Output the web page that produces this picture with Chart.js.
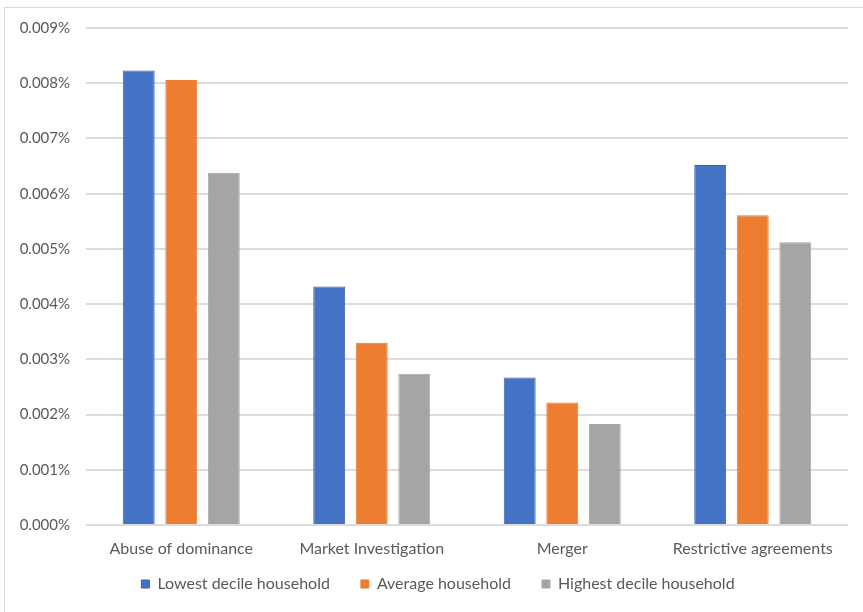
<!DOCTYPE html>
<html lang="en">

<head>
    <meta charset="UTF-8">
    <script src="https://cdn.jsdelivr.net/npm/chart.js"></script>
    <title>Household impact by case type</title>
    <style>
        body { margin: 0; background: #fff; }
        .quadro {
            position: absolute;
            left: 4px;
            top: 7px;
            width: 880px;
            height: 640px;
            border: 1px solid #d9d9d9;
        }
        .grafico {
            position: absolute;
            left: 0;
            top: 0;
            width: 863px;
            height: 612px;
        }
    </style>
</head>

<body>
    <div class="quadro"></div>
    <div class="grafico">
        <canvas id="grafico_barra" width="863" height="612"></canvas>
    </div>
</body>

</html>

<script>
    const categorias = [
        'Abuse of dominance',
        'Market Investigation',
        'Merger',
        'Restrictive agreements',
    ];

    // values in percent
    const menorDecil = [0.00823, 0.00432, 0.00267, 0.00652];
    const mediaDomicilio = [0.00806, 0.00330, 0.00222, 0.00561];
    const maiorDecil = [0.00638, 0.00274, 0.00183, 0.00512];

    const fonte = "Lato, 'Open Sans', sans-serif";

    // the legend padding is wide (item spacing), so pull the box up a bit after layout
    const ajusteLegenda = {
        id: 'ajusteLegenda',
        afterLayout(chart) {
            const leg = chart.legend;
            leg.top -= 15;
            leg.bottom -= 15;
            leg.left += 9;
            leg.right += 9;
        }
    };

    const dataBarra = {
        labels: categorias,
        datasets: [{
            label: 'Lowest decile household',
            backgroundColor: '#4472c4',
            borderColor: '#3a63ad',
            borderWidth: 1,
            data: menorDecil,
        },
        {
            label: 'Average household',
            backgroundColor: '#ed7d31',
            borderColor: '#ed7d31',
            borderWidth: 1,
            data: mediaDomicilio,
        },
        {
            label: 'Highest decile household',
            backgroundColor: '#a5a5a5',
            borderColor: '#a5a5a5',
            borderWidth: 1,
            data: maiorDecil,
        }
        ]
    };

    const configBarra = {
        type: 'bar',
        data: dataBarra,
        plugins: [ajusteLegenda],
        options: {
            responsive: false,
            animation: false,
            categoryPercentage: 0.67,
            barPercentage: 0.75,
            layout: {
                padding: { left: 10, right: 15, top: 28, bottom: 0 }
            },
            scales: {
                x: {
                    afterFit: function (escala) { escala.height = 35; },
                    grid: { display: false, drawTicks: false },
                    border: { display: false },
                    ticks: {
                        color: '#595959',
                        padding: 14,
                        font: { family: fonte, size: 16 }
                    }
                },
                y: {
                    min: 0,
                    max: 0.009,
                    afterFit: function (escala) { escala.width = 76; },
                    grid: { color: '#dcdcdc', lineWidth: 2, drawTicks: false },
                    border: { display: false },
                    ticks: {
                        stepSize: 0.001,
                        color: '#595959',
                        padding: 16,
                        font: { family: fonte, size: 15 },
                        callback: function (valor) { return valor.toFixed(3) + '%'; }
                    }
                }
            },
            plugins: {
                tooltip: { enabled: false },
                legend: {
                    position: 'bottom',
                    maxHeight: 52,
                    labels: {
                        color: '#595959',
                        boxWidth: 8,
                        boxHeight: 8,
                        padding: 31,
                        font: { family: fonte, size: 16 }
                    }
                }
            }
        }
    };

    const grafico_barra = new Chart(
        document.getElementById('grafico_barra'),
        configBarra
    );
</script>
